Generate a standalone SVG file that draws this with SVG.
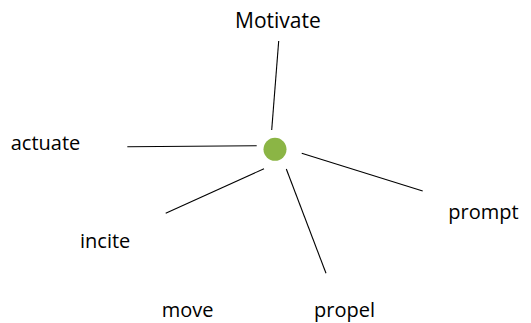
<svg xmlns="http://www.w3.org/2000/svg" width="531" height="323" viewBox="0 0 531 323">
<style>
.lbl{font-family:"Open Sans","Liberation Sans",sans-serif;font-size:20px;fill:#000}
.ln{stroke:#000;stroke-width:1.1;fill:none}
</style>
<rect width="531" height="323" fill="#fff"/>
<g id="connectors">
<line class="ln" x1="278.7" y1="41" x2="271.7" y2="130"/>
<line class="ln" x1="127.3" y1="146.7" x2="256.7" y2="145.7"/>
<line class="ln" x1="301.7" y1="153.3" x2="422.7" y2="191"/>
<line class="ln" x1="165.7" y1="213.3" x2="264" y2="168.7"/>
<line class="ln" x1="286.3" y1="169" x2="326" y2="273.3"/>
</g>
<g id="center"><circle cx="275" cy="149.3" r="11.5" fill="#8BB545"/></g>
<g id="motivate"><text class="lbl" x="235" y="28.3" style="font-size:21px">Motivate</text></g>
<g id="actuate"><text class="lbl" x="10.7" y="150">actuate</text></g>
<g id="prompt"><text class="lbl" x="448.3" y="219">prompt</text></g>
<g id="incite"><text class="lbl" x="80" y="248.3">incite</text></g>
<g id="move"><text class="lbl" x="161.7" y="316.7">move</text></g>
<g id="propel"><text class="lbl" x="314" y="316.7">propel</text></g>
</svg>
